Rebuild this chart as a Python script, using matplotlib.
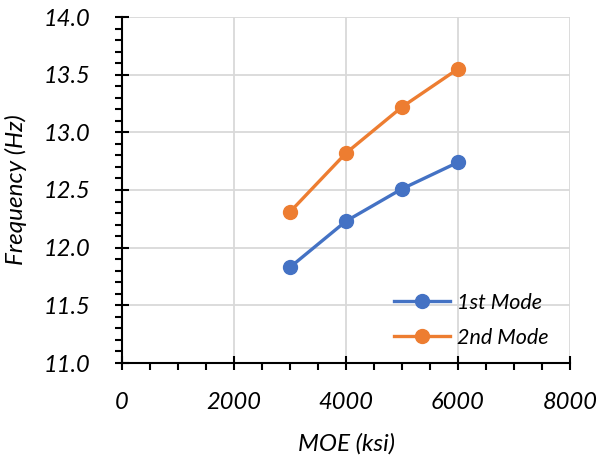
import matplotlib
matplotlib.use("Agg")
import matplotlib.pyplot as plt
from matplotlib.ticker import MultipleLocator

moe = [3000, 4000, 5000, 6000]
mode1 = [11.83, 12.23, 12.51, 12.74]
mode2 = [12.31, 12.82, 13.22, 13.55]
series_names = ["1st Mode", "2nd Mode"]

plt.rcParams['font.family'] = ['Lato', 'DejaVu Sans']

fig = plt.figure(figsize=(6.01, 4.59), dpi=100)
ax = fig.add_axes([122/601, 1 - 363/459, (570-122)/601, (363-17)/459])

ax.plot(moe, mode1, color='#4472C4', lw=2.4, marker='o', ms=10, label=series_names[0], zorder=3)
ax.plot(moe, mode2, color='#ED7D31', lw=2.4, marker='o', ms=10, label=series_names[1], zorder=3)

ax.set_xlim(0, 8000)
ax.set_ylim(11.0, 14.0)
ax.xaxis.set_major_locator(MultipleLocator(2000))
ax.xaxis.set_minor_locator(MultipleLocator(500))
ax.yaxis.set_major_locator(MultipleLocator(0.5))
ax.yaxis.set_minor_locator(MultipleLocator(0.1))
ax.yaxis.set_major_formatter(plt.FuncFormatter(lambda v, p: f"{v:.1f}"))

ax.grid(True, which='major', color='#d9d9d9', lw=1.3, zorder=0)
ax.set_axisbelow(True)
for s in ['top', 'right']:
    ax.spines[s].set_visible(False)
for s in ['left', 'bottom']:
    ax.spines[s].set_linewidth(1.5)
    ax.spines[s].set_color('black')

ax.tick_params(which='major', direction='inout', length=10, width=1.5, labelsize=17)
ax.tick_params(which='minor', direction='out', length=5, width=1.5)
for lab in ax.get_xticklabels() + ax.get_yticklabels():
    lab.set_fontstyle('italic')
ax.tick_params(axis='x', pad=16)
ax.tick_params(axis='y', pad=18)

ax.set_xlabel('MOE (ksi)', fontsize=17.5, style='italic', labelpad=14)
ax.set_ylabel('Frequency (Hz)', fontsize=17.5, style='italic', labelpad=12)

leg = ax.legend(loc='lower right', frameon=False, prop={'size': 15.5, 'style': 'italic'},
                bbox_to_anchor=(0.985, 0.0), handlelength=2.6, labelspacing=0.7,
                handletextpad=0.3, borderaxespad=0.3)

fig.savefig('out.png', dpi=100)
